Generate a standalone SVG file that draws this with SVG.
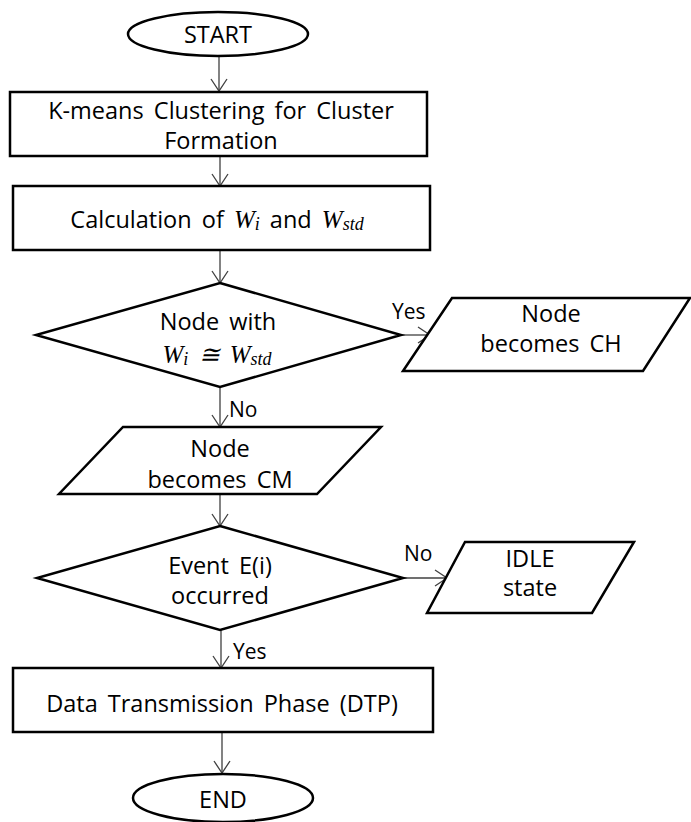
<svg xmlns="http://www.w3.org/2000/svg" width="691" height="822" viewBox="0 0 691 822">
<style>
.s{fill:#fff;stroke:#000;stroke-width:2.5}
.c{fill:none;stroke:#404040;stroke-width:1.3}
text{font-family:"Open Sans","Noto Sans",sans-serif;font-size:23.5px;fill:#000;text-anchor:middle;dominant-baseline:central;word-spacing:4px}
.m{font-family:"Liberation Serif",serif;font-style:italic;font-size:25px}
.sub{font-family:"Liberation Serif",serif;font-style:italic;font-size:18px}
.l{text-anchor:start;font-size:21px}
</style>
<defs>
<marker id="ar" markerUnits="userSpaceOnUse" markerWidth="14" markerHeight="18" refX="12" refY="8" orient="auto" overflow="visible">
<path d="M0,0 L12,8 L0,16" fill="none" stroke="#404040" stroke-width="1.3"/>
</marker>
</defs>
<g id="connectors">
<line class="c" x1="219" y1="57" x2="219" y2="91" marker-end="url(#ar)"/>
<line class="c" x1="220" y1="156" x2="220" y2="186" marker-end="url(#ar)"/>
<line class="c" x1="220" y1="250" x2="220" y2="283" marker-end="url(#ar)"/>
<line class="c" x1="401" y1="335" x2="430" y2="335" marker-end="url(#ar)"/>
<line class="c" x1="220" y1="387" x2="220" y2="427" marker-end="url(#ar)"/>
<line class="c" x1="220" y1="494" x2="220" y2="526" marker-end="url(#ar)"/>
<line class="c" x1="403" y1="578" x2="447" y2="578" marker-end="url(#ar)"/>
<line class="c" x1="221" y1="630" x2="221" y2="668" marker-end="url(#ar)"/>
<line class="c" x1="222" y1="732" x2="222" y2="773" marker-end="url(#ar)"/>
<text class="l" x="392" y="311">Yes</text>
<text class="l" x="229" y="409">No</text>
<text class="l" x="404" y="553">No</text>
<text class="l" x="233" y="651">Yes</text>
</g>
<g id="start">
<ellipse class="s" cx="218" cy="34" rx="90" ry="22"/>
<text x="218" y="34">START</text>
</g>
<g id="kmeans">
<rect class="s" x="10" y="92" width="417" height="64"/>
<text x="221" y="110">K-means Clustering for Cluster</text>
<text x="221" y="140">Formation</text>
</g>
<g id="calc">
<rect class="s" x="13" y="186" width="417" height="64"/>
<text x="217" y="219"><tspan>Calculation of </tspan><tspan class="m">W</tspan><tspan class="sub" dy="5">i</tspan><tspan dy="-5"> and </tspan><tspan class="m">W</tspan><tspan class="sub" dy="5">std</tspan></text>
</g>
<g id="decision1">
<polygon class="s" points="220,283 401,335 220,387 36,335"/>
<text x="218" y="321">Node with</text>
<text x="217" y="354"><tspan class="m">W</tspan><tspan class="sub" dy="5">i</tspan><tspan class="m" dy="-5"> ≅ W</tspan><tspan class="sub" dy="5">std</tspan></text>
</g>
<g id="ch">
<polygon class="s" points="452,298 690,298 643,371 403,371"/>
<text x="551" y="313">Node</text>
<text x="551" y="343">becomes CH</text>
</g>
<g id="cm">
<polygon class="s" points="123,427 381,427 317,494 59,494"/>
<text x="220" y="448">Node</text>
<text x="220" y="479">becomes CM</text>
</g>
<g id="decision2">
<polygon class="s" points="220,526 403,578 220,630 37,578"/>
<text x="220" y="565">Event E(i)</text>
<text x="220" y="595">occurred</text>
</g>
<g id="idle">
<polygon class="s" points="465,542 634,542 592,613 427,613"/>
<text x="530" y="558">IDLE</text>
<text x="530" y="587">state</text>
</g>
<g id="dtp">
<rect class="s" x="13" y="668" width="420" height="64"/>
<text x="222" y="703">Data Transmission Phase (DTP)</text>
</g>
<g id="end">
<ellipse class="s" cx="223" cy="798" rx="90" ry="24"/>
<text x="223" y="799">END</text>
</g>
</svg>
